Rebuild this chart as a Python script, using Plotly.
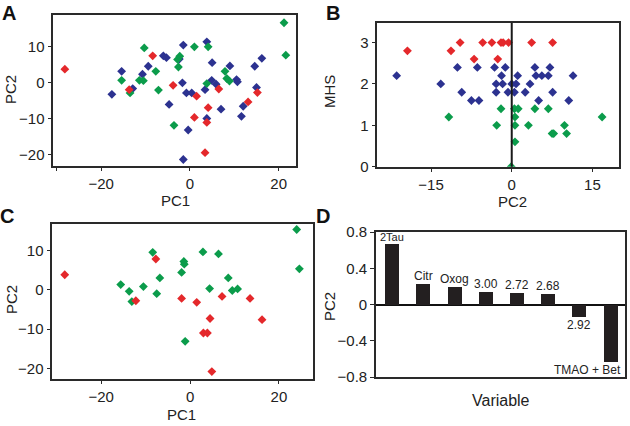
import plotly.graph_objects as go

W, H = 630, 426

# ---------------- Panel A (PC1 vs PC2, three groups) ----------------
a_red_pc1 = [-28.2, -8.4, -13.7, -3.8, 1.5, 1.0, 4.1, 3.8, 3.4, 6.5, 13.1, 15.2]
a_red_pc2 = [3.8, 7.5, -1.9, -0.7, -3.7, -9.6, -6.9, -11.0, -19.4, -1.7, -5.3, -2.7]

a_blue_pc1 = [-17.6, -15.4, -12.9, -10.7, -9.4, -6.0, -5.3, -4.7, -1.5, -1.7,
              -2.4, -0.8, 0.4, -0.4, -1.5, 3.8, 3.4, 3.8, 5.0, 4.9,
              5.9, 7.0, 9.0, 10.5, 10.7, 11.6, 12.0, 14.6, 15.0, 16.2]
a_blue_pc2 = [-3.2, 3.2, -1.6, 2.4, 4.6, 7.5, 7.0, -6.0, 10.5, 0.0,
              6.6, -2.8, -2.8, -13.1, -21.3, 11.4, -1.9, -9.9, 5.6, 0.7,
              -0.4, -7.3, 4.7, 0.9, 0.3, -9.3, -6.5, 4.6, -1.3, 6.8]

a_green_pc1 = [-15.4, -13.5, -11.4, -10.5, -10.3, -7.7, -7.1, -3.6, -2.8, -2.3,
               -2.6, 1.0, 4.1, 3.8, 7.9, 8.3, 8.9, 21.2, 21.6]
a_green_pc2 = [0.7, -2.8, 0.7, 0.6, 9.7, 3.2, -2.0, -11.8, 6.5, 7.4,
               4.4, 10.0, 10.0, -0.2, 3.2, 1.2, 0.5, 16.7, 7.7]

# ---------------- Panel B (PC2 vs MHS) ----------------
b_red_pc2 = [-19.4, -11.3, -9.6, -7.0, -5.4, -3.7, -2.6, -2.0, -1.6, -0.6, 3.7, 7.6]
b_red_mhs = [2.8, 2.8, 3.0, 2.6, 3.0, 3.0, 2.6, 3.0, 3.0, 3.0, 3.0, 3.0]

b_blue_pc2 = [-21.4, -13.2, -10.1, -9.3, -7.5, -6.4, -6.1, -3.2, -2.9, -2.9,
              -1.9, -1.2, -1.7, -0.7, 0.0, 0.5, 0.8, 1.1, 2.5, 3.4,
              4.3, 4.5, 5.0, 5.6, 6.8, 7.1, 7.6, 10.6, 11.4]
b_blue_mhs = [2.2, 2.0, 2.4, 1.8, 1.6, 2.4, 1.6, 2.4, 2.0, 1.8,
              2.2, 2.4, 2.0, 1.8, 2.0, 1.8, 2.0, 2.2, 1.8, 2.0,
              2.4, 2.2, 1.6, 2.2, 2.2, 2.4, 1.8, 1.6, 2.2]

b_green_pc2 = [-11.7, -2.8, -2.0, 0.5, 1.2, 0.6, 0.6, 0.6, -0.1, 3.1,
               4.3, 6.8, 7.5, 7.8, 9.8, 10.2, 16.8]
b_green_mhs = [1.2, 1.0, 1.4, 1.4, 1.4, 1.2, 1.0, 0.6, 0.0, 1.0,
               1.4, 1.4, 0.8, 0.8, 1.0, 0.8, 1.2]

b_ref_line_pc2 = 0

# ---------------- Panel C (PC1 vs PC2, two groups) ----------------
c_red_pc1 = [-28.2, -12.2, -7.7, -1.9, 1.5, 3.0, 3.9, 4.5, 4.9, 7.2, 13.5, 16.2]
c_red_pc2 = [3.8, -2.8, 7.8, -2.2, -3.2, -11.0, -11.0, -7.3, -20.8, -1.7, -2.2, -7.6]

c_green_pc1 = [-15.6, -13.7, -13.1, -10.5, -8.4, -7.5, -6.8, -1.9, -1.4, -1.3,
               -1.1, 2.9, 4.4, 6.4, 8.6, 9.5, 10.7, 24.0, 24.6]
c_green_pc2 = [1.3, -0.4, -3.0, 0.8, 9.5, -1.0, 3.0, 4.4, 7.2, 6.5,
               -13.1, 9.6, 0.3, 9.1, 3.0, -0.2, 0.2, 15.3, 5.3]

# ---------------- Panel D (PC2 loadings) ----------------
d_variables = ["2Tau", "Citr", "Oxog", "3.00", "2.72", "2.68", "2.92", "TMAO + Bet"]
d_loadings = [0.665, 0.226, 0.197, 0.134, 0.127, 0.116, -0.141, -0.63]

# ---------------- Styling ----------------
RED = "#E4282B"
BLUE = "#2C3290"
GREEN = "#0B9C4B"
BAR = "#231F20"
INK = "#222222"
FONT = "Liberation Sans, Arial, Helvetica, sans-serif"
MSIZE = 6.8


def px_x(v):
    return v / W


def px_y(v):
    return 1 - v / H


def scatter(x, y, color, xa, ya):
    return go.Scatter(x=x, y=y, mode="markers", xaxis=xa, yaxis=ya,
                      marker=dict(symbol="diamond", size=MSIZE, color=color,
                                  line=dict(width=0)),
                      showlegend=False, hoverinfo="x+y")


d_pos = list(range(len(d_variables)))

fig = go.Figure()
fig.add_trace(scatter(a_blue_pc1, a_blue_pc2, BLUE, "x", "y"))
fig.add_trace(scatter(a_green_pc1, a_green_pc2, GREEN, "x", "y"))
fig.add_trace(scatter(a_red_pc1, a_red_pc2, RED, "x", "y"))

fig.add_trace(scatter(b_blue_pc2, b_blue_mhs, BLUE, "x2", "y2"))
fig.add_trace(scatter(b_green_pc2, b_green_mhs, GREEN, "x2", "y2"))
fig.add_trace(scatter(b_red_pc2, b_red_mhs, RED, "x2", "y2"))

fig.add_trace(scatter(c_green_pc1, c_green_pc2, GREEN, "x3", "y3"))
fig.add_trace(scatter(c_red_pc1, c_red_pc2, RED, "x3", "y3"))

fig.add_trace(go.Bar(x=d_pos, y=d_loadings, xaxis="x4", yaxis="y4",
                     marker=dict(color=BAR, line=dict(width=0)), width=0.45,
                     hovertext=d_variables, showlegend=False))

axis_common = dict(showline=True, mirror=True, linecolor="#2a2a2a", linewidth=1.6,
                   ticks="outside", ticklen=4, tickwidth=1, tickcolor="#2a2a2a",
                   showgrid=False, zeroline=False, automargin=False,
                   tickfont=dict(family=FONT, size=15, color=INK))
xaxis_common = dict(axis_common, ticklen=3)

fig.update_layout(
    template="none",
    width=W, height=H,
    margin=dict(l=0, r=0, t=0, b=0, pad=0, autoexpand=False),
    paper_bgcolor="white", plot_bgcolor="white",
    font=dict(family=FONT, color=INK),
    xaxis=dict(xaxis_common, domain=[px_x(53.3), px_x(296)], range=[-30.8, 23.9],
               tickvals=[-30, -20, 0, 20], ticktext=["", "\u221220", "0", "20"], anchor="y"),
    yaxis=dict(axis_common, domain=[px_y(166), px_y(15)], range=[-23.1, 18.85],
               tickvals=[-20, -10, 0, 10], anchor="x"),
    xaxis2=dict(xaxis_common, domain=[px_x(377.3), px_x(619.3)], range=[-25, 20],
                tickvals=[-15, 0, 15], anchor="y2"),
    yaxis2=dict(axis_common, domain=[px_y(166.7), px_y(22.7)], range=[0, 3.48],
                tickvals=[0, 1, 2, 3], anchor="x2"),
    xaxis3=dict(xaxis_common, domain=[px_x(52.3), px_x(312.7)], range=[-31.0, 27.6],
                tickvals=[-20, 0, 20], anchor="y3"),
    yaxis3=dict(axis_common, domain=[px_y(378.7), px_y(224)], range=[-22.6, 16.7],
                tickvals=[-20, -10, 0, 10], anchor="x3"),
    xaxis4=dict(axis_common, domain=[px_x(376), px_x(625)],
                range=[-0.52, 7.46], ticks="", showticklabels=False, anchor="y4"),
    yaxis4=dict(axis_common, domain=[px_y(377), px_y(232)], range=[-0.8, 0.8],
                tickvals=[-0.8, -0.4, 0, 0.4, 0.8], zeroline=True,
                zerolinecolor="#111111", zerolinewidth=1.6, anchor="x4"),
    bargap=0,
)

# vertical reference line in panel B
fig.add_shape(type="line", xref="x2", yref="y2 domain",
              x0=b_ref_line_pc2, x1=b_ref_line_pc2, y0=0, y1=1,
              line=dict(color="#1a1a1a", width=2))

# bar labels in panel D
for i, (name, val) in enumerate(zip(d_variables, d_loadings)):
    pos = val >= 0
    xanchor = "center"
    xshift = 0
    size = 12
    if name == "TMAO + Bet":
        xanchor = "right"
        xshift = 12
    if name == "2Tau":
        size = 11
    fig.add_annotation(x=d_pos[i], y=val, xref="x4", yref="y4", text=name,
                       showarrow=False, xanchor=xanchor, xshift=xshift,
                       yanchor="bottom" if pos else "top",
                       yshift=-1 if pos else 1,
                       font=dict(family=FONT, size=size, color=INK))

# axis titles
titles = [
    ("PC1", 175, 200, 0, 15),
    ("PC2", 11, 90, -90, 15),
    ("MHS", 329, 92, -90, 15),
    ("PC2", 512, 201, 0, 15),
    ("PC1", 182, 414, 0, 15),
    ("PC2", 11, 300, -90, 15),
    ("PC2", 329, 307, -90, 15),
    ("Variable", 501, 400, 0, 16),
]
for text, x, y, ang, size in titles:
    fig.add_annotation(x=px_x(x), y=px_y(y), xref="paper", yref="paper", text=text,
                       showarrow=False, textangle=ang, xanchor="center", yanchor="middle",
                       borderpad=0,
                       font=dict(family=FONT, size=size, color=INK))

# panel letters
for text, x, y in [("A", 9, 12.5), ("B", 332.5, 12.5), ("C", 7, 216), ("D", 323, 216)]:
    fig.add_annotation(x=px_x(x), y=px_y(y), xref="paper", yref="paper",
                       text="<b>%s</b>" % text, showarrow=False,
                       xanchor="center", yanchor="middle",
                       font=dict(family=FONT, size=20, color="#111111"))

fig.write_html("out.html", config={"displayModeBar": False},
               post_script="document.body.style.margin='0';document.body.style.overflow='hidden';")
